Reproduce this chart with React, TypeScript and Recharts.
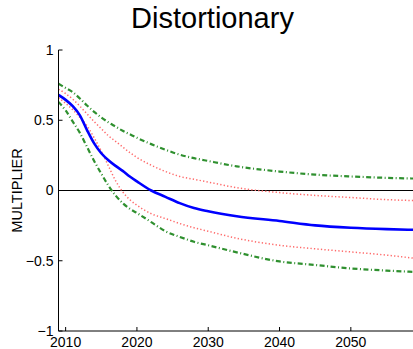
import { LineChart, Line, XAxis, YAxis, ReferenceLine, Label } from "recharts"

const FONT = '"Liberation Sans", Arial, sans-serif'

// Years sampled from the figure (denser where the curves bend).
const years = [2009, 2010, 2011, 2012, 2013, 2014, 2015, 2016, 2017, 2018, 2019, 2020, 2022, 2024, 2026, 2028, 2030, 2034, 2040, 2045, 2050, 2055, 2059]

// Median multiplier (solid blue).
const median = [0.68, 0.645, 0.6, 0.535, 0.43, 0.335, 0.265, 0.215, 0.175, 0.14, 0.1, 0.065, 0.0, -0.045, -0.09, -0.125, -0.148, -0.183, -0.217, -0.248, -0.265, -0.275, -0.28]

// Inner band (red dotted).
const innerUpper = [0.72, 0.69, 0.65, 0.6, 0.545, 0.49, 0.44, 0.39, 0.35, 0.31, 0.27, 0.235, 0.18, 0.135, 0.1, 0.08, 0.06, 0.02, -0.015, -0.035, -0.05, -0.065, -0.072]
const innerLower = [0.66, 0.62, 0.575, 0.52, 0.46, 0.375, 0.28, 0.175, 0.07, -0.01, -0.065, -0.105, -0.165, -0.2, -0.235, -0.265, -0.29, -0.34, -0.39, -0.415, -0.437, -0.46, -0.483]

// Outer band (green dash-dot).
const outerUpper = [0.76, 0.73, 0.7, 0.655, 0.605, 0.56, 0.52, 0.485, 0.455, 0.425, 0.4, 0.375, 0.33, 0.29, 0.255, 0.23, 0.21, 0.172, 0.135, 0.113, 0.1, 0.09, 0.085]
const outerLower = [0.63, 0.57, 0.49, 0.41, 0.31, 0.21, 0.12, 0.035, -0.035, -0.09, -0.13, -0.16, -0.225, -0.29, -0.33, -0.365, -0.39, -0.44, -0.505, -0.53, -0.555, -0.57, -0.58]

const xTicks = [2010, 2020, 2030, 2040, 2050]
const yTicks = [-1, -0.5, 0, 0.5, 1]

const data = years.map((year, i) => ({
  year,
  median: median[i],
  innerUpper: innerUpper[i],
  innerLower: innerLower[i],
  outerUpper: outerUpper[i],
  outerLower: outerLower[i],
}))

const fmtY = (v: number) => String(v).replace("-", "\u2212")

// MATLAB-style ticks: short marks pointing into the plot box.
function BottomTick({ x, y, payload }: any) {
  return (
    <g>
      <line x1={x} x2={x} y1={y - 6} y2={y - 10} stroke="#000" />
      <text x={x} y={y} dy="0.71em" textAnchor="middle" fontSize={14} fontFamily={FONT} fill="#000">
        {payload.value}
      </text>
    </g>
  )
}

function LeftTick({ x, y, payload }: any) {
  return (
    <g>
      <line x1={x + 5} x2={x + 9} y1={y} y2={y} stroke="#000" />
      <text x={x} y={y} dy="0.355em" textAnchor="end" fontSize={14} fontFamily={FONT} fill="#000">
        {fmtY(payload.value)}
      </text>
    </g>
  )
}

function TopTick({ x, y }: any) {
  return <line x1={x} x2={x} y1={y} y2={y + 4} stroke="#000" />
}

function RightTick({ x, y }: any) {
  return <line x1={x} x2={x - 4} y1={y} y2={y} stroke="#000" />
}

export default function App() {
  return (
    <div
      style={{
        position: "fixed",
        left: 0,
        top: 0,
        width: 413,
        height: 349,
        overflow: "hidden",
        background: "#fff",
        fontFamily: FONT,
      }}
    >
      <div
        style={{
          position: "absolute",
          left: 0,
          top: 3.6,
          width: 425,
          textAlign: "center",
          fontSize: 29,
          lineHeight: "29px",
          color: "#000",
        }}
      >
        Distortionary
      </div>
      <LineChart width={420} height={349} data={data} margin={{ top: 50, right: 5, bottom: 0, left: 0 }}>
        <XAxis
          xAxisId="bottom"
          dataKey="year"
          type="number"
          domain={[2009, 2059]}
          ticks={xTicks}
          height={18}
          tickSize={0}
          tickMargin={6}
          tick={<BottomTick />}
          axisLine={{ stroke: "#000" }}
          allowDataOverflow
        />
        <XAxis
          xAxisId="top"
          orientation="top"
          type="number"
          domain={[2009, 2059]}
          ticks={xTicks}
          height={0}
          tickSize={0}
          tickMargin={0}
          tick={<TopTick />}
          axisLine={{ stroke: "#000" }}
          allowDataOverflow
        />
        <YAxis
          yAxisId="left"
          type="number"
          domain={[-1, 1]}
          ticks={yTicks}
          width={58.5}
          tickSize={0}
          tickMargin={5}
          tick={<LeftTick />}
          axisLine={{ stroke: "#000" }}
          allowDataOverflow
        >
          <Label
            value="MULTIPLIER"
            angle={-90}
            position="insideLeft"
            offset={16.5}
            style={{ textAnchor: "middle", fontSize: 14.5, fontFamily: FONT, fill: "#000" }}
          />
        </YAxis>
        <YAxis
          yAxisId="right"
          orientation="right"
          type="number"
          domain={[-1, 1]}
          ticks={yTicks}
          width={0}
          tickSize={0}
          tickMargin={0}
          tick={<RightTick />}
          axisLine={{ stroke: "#000" }}
          allowDataOverflow
        />
        <ReferenceLine xAxisId="bottom" yAxisId="left" y={0} stroke="#000" strokeWidth={1.2} />
        <Line xAxisId="bottom" yAxisId="left" type="monotone" dataKey="outerUpper" stroke="#2f902f" strokeWidth={2.2} strokeDasharray="5 2.5 1 2.5" dot={false} isAnimationActive={false} />
        <Line xAxisId="bottom" yAxisId="left" type="monotone" dataKey="outerLower" stroke="#2f902f" strokeWidth={2.2} strokeDasharray="5 2.5 1 2.5" dot={false} isAnimationActive={false} />
        <Line xAxisId="bottom" yAxisId="left" type="monotone" dataKey="innerUpper" stroke="#ff6a6a" strokeWidth={1.5} strokeDasharray="1.3 2.2" dot={false} isAnimationActive={false} />
        <Line xAxisId="bottom" yAxisId="left" type="monotone" dataKey="innerLower" stroke="#ff6a6a" strokeWidth={1.5} strokeDasharray="1.3 2.2" dot={false} isAnimationActive={false} />
        <Line xAxisId="bottom" yAxisId="left" type="monotone" dataKey="median" stroke="#0000ff" strokeWidth={2.6} dot={false} isAnimationActive={false} />
      </LineChart>
    </div>
  )
}
